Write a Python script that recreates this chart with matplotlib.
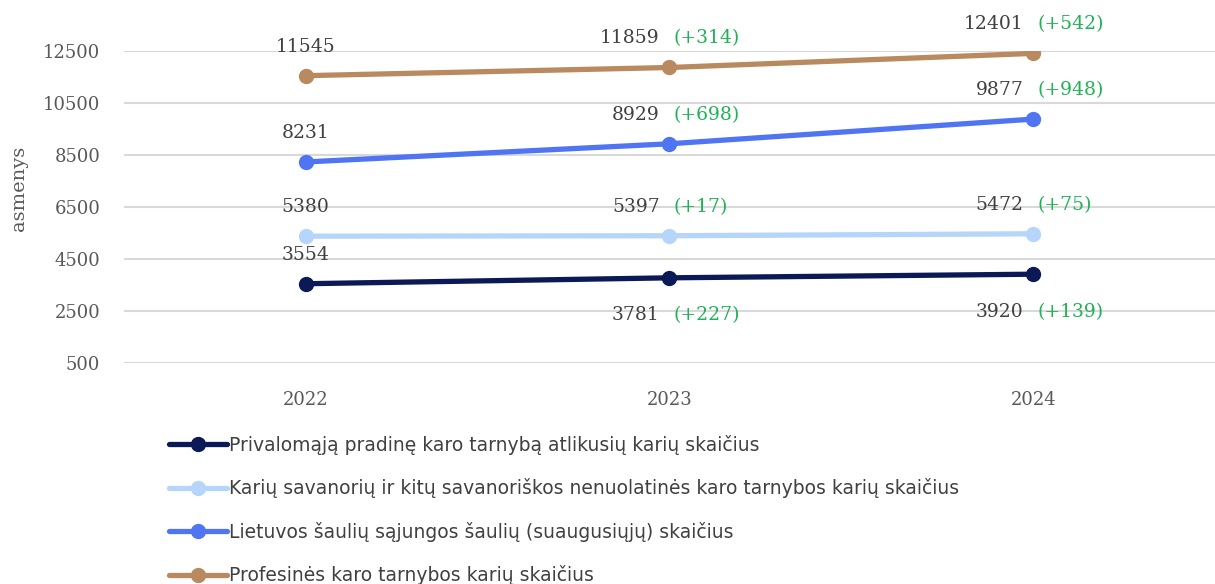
import matplotlib
matplotlib.use("Agg")
import matplotlib.pyplot as plt

# Data
years = ["2022", "2023", "2024"]
series_names = [
    "Privalomąją pradinę karo tarnybą atlikusių karių skaičius",
    "Karių savanorių ir kitų savanoriškos nenuolatinės karo tarnybos karių skaičius",
    "Lietuvos šaulių sąjungos šaulių (suaugusiųjų) skaičius",
    "Profesinės karo tarnybos karių skaičius",
]
privalomoji = [3554, 3781, 3920]
savanoriai = [5380, 5397, 5472]
sauliai = [8231, 8929, 9877]
profesine = [11545, 11859, 12401]
y_ticks = [500, 2500, 4500, 6500, 8500, 10500, 12500]

colors = ["#0b1957", "#b5d5fb", "#4f75f2", "#b98a5f"]
green = "#1fb356"
num_color = "#404040"
tick_color = "#595959"

all_series = [privalomoji, savanoriai, sauliai, profesine]
# labels below the point (only navy line in later years)
below = [[False, True, True], [False, False, False], [False, False, False], [False, False, False]]

num_font = "DejaVu Serif"

fig = plt.figure(figsize=(12.15, 5.84), dpi=100)
ax = fig.add_axes([0.102, 0.378, 0.898, 0.535])

x = list(range(len(years)))
for vals, name, col, blw in zip(all_series, series_names, colors, below):
    ax.plot(x, vals, color=col, lw=3.8, marker="o", markersize=10,
            label=name, solid_capstyle="round", zorder=3)
    for i, v in enumerate(vals):
        dy = -27 if blw[i] else 21
        if i == 0:
            ax.annotate(str(v), (i, v), xytext=(0, dy), textcoords="offset points",
                        ha="center", va="center", fontsize=13.5, color=num_color,
                        family=num_font, annotation_clip=False)
        else:
            delta = v - vals[i - 1]
            ax.annotate(str(v), (i, v), xytext=(-7, dy), textcoords="offset points",
                        ha="right", va="center", fontsize=13.5, color=num_color,
                        family=num_font, annotation_clip=False)
            ax.annotate(f"(+{delta})", (i, v), xytext=(3, dy), textcoords="offset points",
                        ha="left", va="center", fontsize=13.5, color=green,
                        family=num_font, annotation_clip=False)

ax.set_xlim(-0.5, 2.5)
ax.set_ylim(500, 12500)
ax.set_xticks(x)
ax.set_xticklabels(years)
ax.set_yticks(y_ticks)
ax.set_yticklabels([str(t) for t in y_ticks])
ax.tick_params(length=0, colors=tick_color, labelsize=13)
ax.tick_params(axis="x", pad=20)
ax.tick_params(axis="y", pad=17)
for lab in ax.get_xticklabels() + ax.get_yticklabels():
    lab.set_family(num_font)
ax.grid(axis="y", color="#d9d9d9", lw=1.5)
ax.set_axisbelow(True)
for s in ax.spines.values():
    s.set_visible(False)

ax.set_ylabel("asmenys", fontsize=14, color=tick_color, family=num_font)
ax.yaxis.set_label_coords(-0.088, 0.56)

leg = fig.legend(loc="upper left", bbox_to_anchor=(0.133, 0.268), frameon=False,
                 fontsize=13.5, handlelength=3.1, handletextpad=0.1,
                 labelspacing=1.25, borderaxespad=0)
for t in leg.get_texts():
    t.set_color(num_color)

fig.savefig("out.png", dpi=100)
